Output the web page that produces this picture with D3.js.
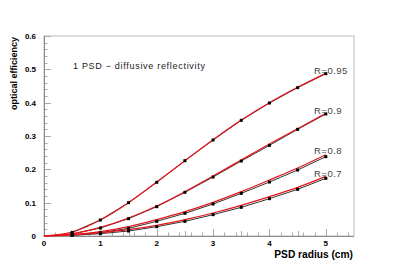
<!DOCTYPE html>
<html><head><meta charset="utf-8">
<script src="https://cdn.jsdelivr.net/npm/d3@7"></script>
<style>body{margin:0;background:#fff}svg{display:block}text{font-family:"Liberation Sans",Arial,sans-serif}</style>
</head><body>
<svg id="c" width="398" height="273"></svg>
<script>
const radii = [0.5, 1, 1.5, 2, 2.5, 3, 3.5, 4, 4.5, 5];
const fitRadii = [0, 0.5, 1, 1.5, 2, 2.5, 3, 3.5, 4, 4.5, 5];
const seriesLabels = ["R=0.95", "R=0.9", "R=0.8", "R=0.7"];
const data095 = [0.011, 0.048, 0.100, 0.161, 0.226, 0.288, 0.347, 0.399, 0.445, 0.487];
const data090 = [0.006, 0.024, 0.052, 0.088, 0.131, 0.177, 0.225, 0.272, 0.320, 0.366];
const data080 = [0.003, 0.010, 0.023, 0.044, 0.068, 0.096, 0.128, 0.162, 0.198, 0.238];
const data070 = [0.002, 0.007, 0.015, 0.028, 0.044, 0.064, 0.086, 0.112, 0.140, 0.173];
const fit095 = [0, 0.012, 0.048, 0.100, 0.162, 0.226, 0.289, 0.348, 0.400, 0.446, 0.488];
const fit090 = [0, 0.007, 0.026, 0.054, 0.090, 0.133, 0.180, 0.228, 0.276, 0.322, 0.368];
const fit080 = [0, 0.004, 0.013, 0.028, 0.049, 0.073, 0.101, 0.133, 0.168, 0.204, 0.244];
const fit070 = [0, 0.003, 0.010, 0.019, 0.032, 0.049, 0.069, 0.092, 0.118, 0.146, 0.179];
const yTicks = [0, 0.1, 0.2, 0.3, 0.4, 0.5, 0.6];
const xTicks = [0, 1, 2, 3, 4, 5];

const svg = d3.select("#c");
const L = 44, R = 354, T = 36, B = 236;
const x = d3.scaleLinear().domain([0, 5.5]).range([L, R]);
const y = d3.scaleLinear().domain([0, 0.6]).range([B, T]);
const frame = "#8a8a8a";

// frame
svg.append("rect").attr("x", L).attr("y", T).attr("width", R - L).attr("height", B - T)
  .attr("fill", "none").attr("stroke", "#bbb").attr("stroke-width", 1);

// y minor ticks
const yMinor = d3.range(0, 0.6001, 0.02);
svg.append("g").selectAll("line").data(yMinor).join("line")
  .attr("x1", L).attr("x2", d => L + (Math.abs(d * 10 - Math.round(d * 10)) < 1e-6 ? 7 : 3.5))
  .attr("y1", d => Math.round(y(d)) + 0.5).attr("y2", d => Math.round(y(d)) + 0.5)
  .attr("stroke", "#aaa").attr("stroke-width", 1);
// x minor ticks
const xMinor = d3.range(0, 5.5001, 0.2).concat(d3.range(0.5, 5.5, 1));
svg.append("g").selectAll("line").data(xMinor).join("line")
  .attr("x1", d => Math.round(x(d)) + 0.5).attr("x2", d => Math.round(x(d)) + 0.5)
  .attr("y1", B).attr("y2", d => {
    const r = Math.abs(d - Math.round(d)) < 1e-6 ? 7 : (Math.abs(d * 2 - Math.round(d * 2)) < 1e-6 ? 5 : 3.5);
    return B - r;
  })
  .attr("stroke", "#aaa").attr("stroke-width", 1);

// axis lines
svg.append("line").attr("x1", L + 0.5).attr("x2", L + 0.5).attr("y1", T).attr("y2", B).attr("stroke", frame);
svg.append("line").attr("x1", L).attr("x2", R).attr("y1", B + 0.5).attr("y2", B + 0.5).attr("stroke", frame);

// tick labels
svg.append("g").selectAll("text").data(yTicks).join("text")
  .attr("x", 36).attr("y", d => y(d) + 3)
  .attr("text-anchor", "end").attr("font-size", 8).attr("font-weight", "bold")
  .text(d => d === 0 ? "0" : d.toFixed(1));
svg.append("g").selectAll("text").data(xTicks).join("text")
  .attr("x", d => x(d)).attr("y", 246)
  .attr("text-anchor", "middle").attr("font-size", 8).attr("font-weight", "bold")
  .text(d => d);

// axis titles
svg.append("text").attr("transform", "translate(17,37) rotate(-90)")
  .attr("text-anchor", "end").attr("font-size", 9).attr("font-weight", "bold")
  .text("optical efficiency");
svg.append("text").attr("x", 353).attr("y", 258)
  .attr("text-anchor", "end").attr("font-size", 10.2).attr("font-weight", "bold")
  .text("PSD radius (cm)");

// annotation
svg.append("text").attr("x", 73).attr("y", 69).attr("font-size", 9).attr("letter-spacing", 0.7).attr("fill", "#222")
  .text("1 PSD \u2212 diffusive reflectivity");

const datasets = [data095, data090, data080, data070];
const fits = [fit095, fit090, fit080, fit070];

const lineB = d3.line().x((d, i) => x(radii[i])).y(d => y(d));
const lineR = d3.line().x((d, i) => x(fitRadii[i])).y(d => y(d)).curve(d3.curveMonotoneX);

datasets.forEach((ds, k) => {
  svg.append("path").attr("d", lineB(ds)).attr("fill", "none").attr("stroke", "#333").attr("stroke-width", 1);
});
fits.forEach(f => {
  svg.append("path").attr("d", lineR(f)).attr("fill", "none").attr("stroke", "#e8141a").attr("stroke-width", 1.2);
});
datasets.forEach(ds => {
  svg.append("g").selectAll("rect").data(ds).join("rect")
    .attr("x", (d, i) => x(radii[i]) - 1.5).attr("y", d => y(d) - 1.5)
    .attr("width", 3).attr("height", 3).attr("fill", "#000");
});

// series labels
const labelBase = [74, 114, 154, 177];
seriesLabels.forEach((s, k) => {
  svg.append("text").attr("x", 314).attr("y", labelBase[k]).attr("font-size", 9.5).attr("letter-spacing", 0.5).attr("fill", "#444").text(s);
});
</script>
</body></html>
